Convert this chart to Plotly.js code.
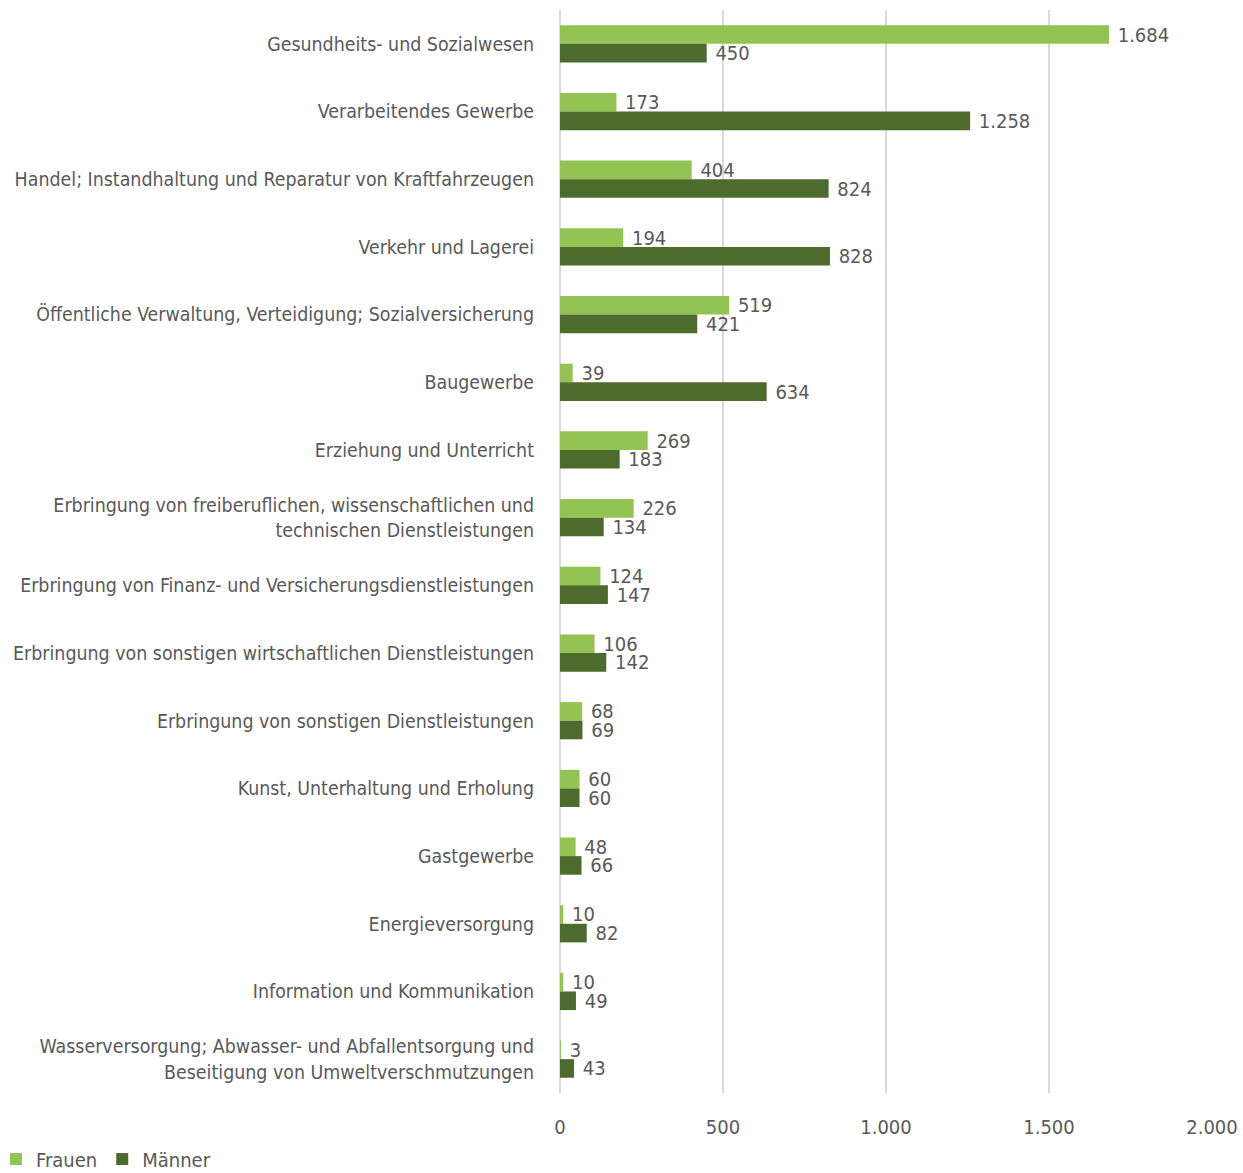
<!DOCTYPE html>
<html>
<head>
<meta charset="utf-8">
<script src="https://cdn.plot.ly/plotly-3.0.1.min.js"></script>
<style>html,body{margin:0;padding:0;background:#fff;}#chart{width:1243px;height:1173px;}</style>
</head>
<body>
<div id="chart"></div>
<script>
const categories = [
  "Gesundheits- und Sozialwesen",
  "Verarbeitendes Gewerbe",
  "Handel; Instandhaltung und Reparatur von Kraftfahrzeugen",
  "Verkehr und Lagerei",
  "Öffentliche Verwaltung, Verteidigung; Sozialversicherung",
  "Baugewerbe",
  "Erziehung und Unterricht",
  "Erbringung von freiberuflichen, wissenschaftlichen und<br>technischen Dienstleistungen",
  "Erbringung von Finanz- und Versicherungsdienstleistungen",
  "Erbringung von sonstigen wirtschaftlichen Dienstleistungen",
  "Erbringung von sonstigen Dienstleistungen",
  "Kunst, Unterhaltung und Erholung",
  "Gastgewerbe",
  "Energieversorgung",
  "Information und Kommunikation",
  "Wasserversorgung; Abwasser- und Abfallentsorgung und<br>Beseitigung von Umweltverschmutzungen"
];
const frauen = [1684, 173, 404, 194, 519, 39, 269, 226, 124, 106, 68, 60, 48, 10, 10, 3];
const maenner = [450, 1258, 824, 828, 421, 634, 183, 134, 147, 142, 69, 60, 66, 82, 49, 43];
const tickVals = [0, 500, 1000, 1500, 2000];

const FONT = '"DejaVu Sans Condensed", "Liberation Sans Narrow", "Open Sans", sans-serif';
const TXT = '#595959';

const traces = [
  {type:'bar', orientation:'h', name:'Frauen', y:categories, x:frauen,
   marker:{color:'#92C353'}, texttemplate:'\u00a0%{x:,}', textposition:'outside',
   constraintext:'none', cliponaxis:false, textfont:{size:20, color:TXT, family:FONT}, hoverinfo:'x+y'},
  {type:'bar', orientation:'h', name:'Männer', y:categories, x:maenner,
   marker:{color:'#4E6B2E'}, texttemplate:'\u00a0%{x:,}', textposition:'outside',
   constraintext:'none', cliponaxis:false, textfont:{size:20, color:TXT, family:FONT}, hoverinfo:'x+y'}
];

const layout = {
  width:1243, height:1173,
  margin:{l:560, r:31, t:10, b:80, pad:0, autoexpand:false},
  paper_bgcolor:'#fff', plot_bgcolor:'#fff',
  font:{family:FONT, color:TXT, size:20},
  separators:',.',
  barmode:'group', bargap:0.45, bargroupgap:0,
  xaxis:{range:[0,2000], tickvals:tickVals, tickformat:',', showgrid:true, gridcolor:'#d9d9d9', gridwidth:2,
         zeroline:true, zerolinecolor:'#d9d9d9', zerolinewidth:2, showline:false, ticks:'',
         ticklabelstandoff:20, tickfont:{size:20, color:TXT}, fixedrange:true, automargin:false},
  yaxis:{autorange:'reversed', type:'category', showgrid:false, zeroline:false, showline:false, ticks:'',
         ticklabelstandoff:25, tickfont:{size:19.4, color:TXT}, automargin:false},
  showlegend:true,
  legend:{orientation:'h', x:-0.865, xanchor:'left', y:-0.061, yanchor:'middle',
          font:{size:20, color:TXT}, traceorder:'normal', itemwidth:30},
};

Plotly.newPlot('chart', traces, layout, {displayModeBar:false, staticPlot:true});
</script>
</body>
</html>
